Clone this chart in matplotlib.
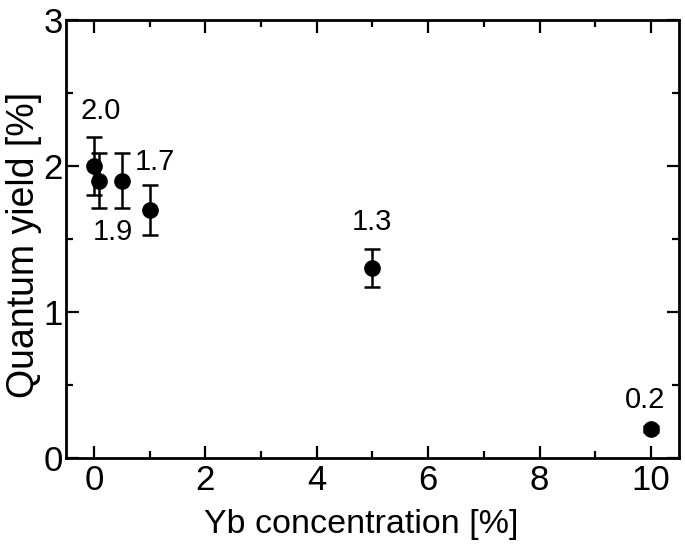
import matplotlib
matplotlib.use("Agg")
import matplotlib.pyplot as plt
from matplotlib.ticker import MultipleLocator

plt.rcParams['font.family'] = ['Liberation Sans', 'DejaVu Sans']

yb_conc = [0.0, 0.1, 0.5, 1.0, 5.0, 10.0]
qy = [2.0, 1.9, 1.9, 1.7, 1.3, 0.2]
qy_err = [0.20, 0.19, 0.19, 0.17, 0.13, 0.02]

labels = ["2.0", "1.9", "1.7", "1.3", "0.2"]
label_x = [0.13, 0.34, 1.09, 4.99, 9.89]
label_y = [2.38, 1.55, 2.03, 1.62, 0.40]

fig = plt.figure(figsize=(6.85, 5.47), dpi=100)
ax = fig.add_axes([0.0964, 0.1627, 0.8946, 0.8003])

ax.errorbar(yb_conc, qy, yerr=qy_err, fmt='o', color='black', markersize=11,
            capsize=6, elinewidth=1.8, capthick=1.8)

for t, x, y in zip(labels, label_x, label_y):
    ax.text(x, y, t, ha='center', va='center', fontsize=21)

ax.set_xlim(-0.5, 10.5)
ax.set_ylim(0, 3)
ax.xaxis.set_major_locator(MultipleLocator(2))
ax.xaxis.set_minor_locator(MultipleLocator(1))
ax.yaxis.set_major_locator(MultipleLocator(1))
ax.yaxis.set_minor_locator(MultipleLocator(0.5))
ax.tick_params(which='both', direction='in', top=True, right=True, width=1.6,
               labelsize=25)
ax.tick_params(which='major', length=9)
ax.tick_params(which='minor', length=5)
ax.tick_params(axis='x', pad=4)
ax.tick_params(axis='y', pad=2.5)
for s in ax.spines.values():
    s.set_linewidth(2)

ax.set_xlabel("Yb concentration [%]", fontsize=24.5, labelpad=9)
ax.xaxis.label.set_x(0.482)
ax.set_ylabel("Quantum yield [%]", fontsize=27, labelpad=1)
ax.yaxis.label.set_y(0.486)

fig.savefig("out.png", dpi=100)
